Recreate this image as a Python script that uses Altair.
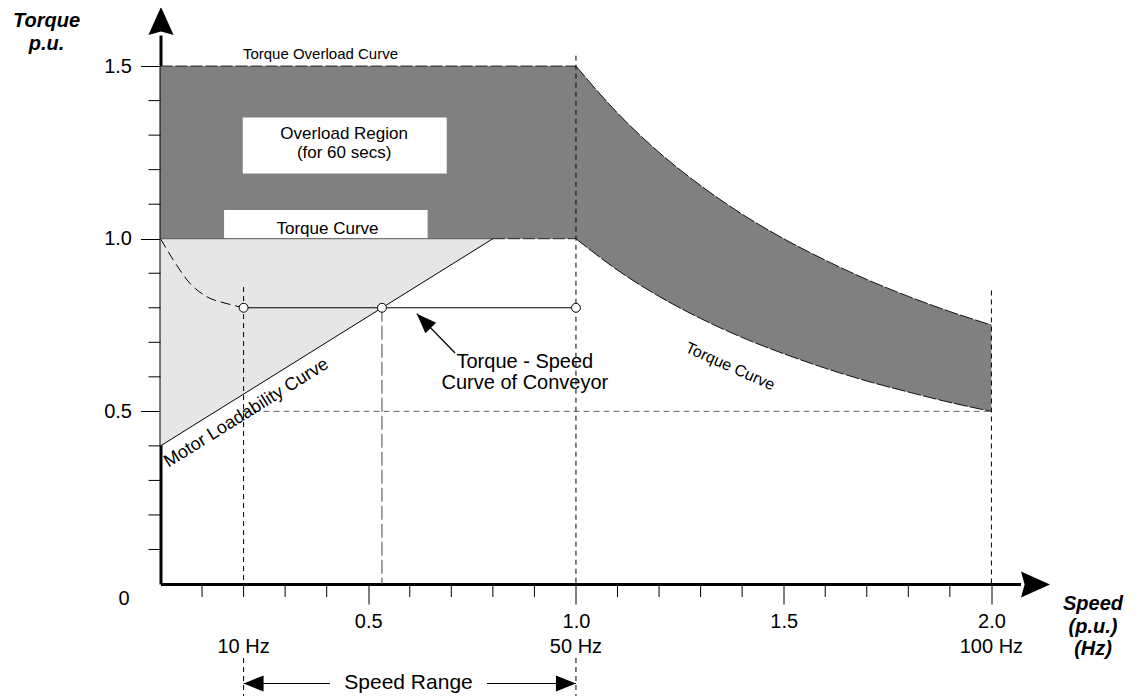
import altair as alt
import pandas as pd

# ---------------- layout ----------------
W, H = 860, 549
X_DOM = [0, 2.07]
Y_DOM = [0, 1.59]
FONT = "Liberation Sans"

# ---------------- data ----------------
# constant-power (field weakening) part
hyp_x = [1.0, 1.1, 1.2, 1.3, 1.4, 1.5, 1.6, 1.7, 1.8, 1.9, 2.0]
hyp_overload = [1.5, 1.364, 1.25, 1.154, 1.071, 1.0, 0.938, 0.882, 0.833, 0.789, 0.75]
hyp_torque = [1.0, 0.909, 0.833, 0.769, 0.714, 0.667, 0.625, 0.588, 0.556, 0.526, 0.5]
flat_x = [0.0, 1.0]
overload_level = 1.5
torque_level = 1.0

# motor loadability curve
load_x = [0.0, 0.8]
load_y = [0.4, 1.0]
torque_dash_x = [0.8, 1.0]

# conveyor torque-speed curve
conv_curve_x = [0.0, 0.03, 0.07, 0.11, 0.16, 0.2]
conv_curve_y = [1.0, 0.94, 0.872, 0.833, 0.812, 0.8]
conv_flat_x = [0.2, 1.0]
conv_level = 0.8
op_x = [0.2, 0.533, 1.0]

# guide lines
vline_long_x = [0.2, 1.0]
vline_long_top = [0.86, 1.53]
vline_short_x = [2.0]
vline_short_top = [0.85]
op_drop_x = [0.533]
half_line_x = [0.2, 2.0]
half_level = 0.5

# text boxes
box_x1 = [0.198, 0.153]
box_x2 = [0.689, 0.643]
box_y1 = [1.189, 1.0]
box_y2 = [1.351, 1.083]

# pointer arrow
ptr_tail = (0.709, 0.669)
ptr_tip = (0.617, 0.783)

# ticks
x_major = [0.5, 1.0, 1.5, 2.0]
x_minor = [0.1, 0.2, 0.3, 0.4, 0.6, 0.7, 0.8, 0.9, 1.1, 1.2, 1.3, 1.4, 1.6, 1.7, 1.8, 1.9]
y_major = [0.5, 1.0, 1.5]
y_minor = [0.1, 0.2, 0.3, 0.4, 0.6, 0.7, 0.8, 0.9, 1.1, 1.2, 1.3, 1.4]

hz_x = [0.2, 1.0, 2.0]
hz_labels = ["10 Hz", "50 Hz", "100 Hz"]

range_seg_x1 = [0.2, 0.786]
range_seg_x2 = [0.408, 1.0]

# ---------------- helpers ----------------
xs = alt.Scale(domain=X_DOM, nice=False, zero=False)
ys = alt.Scale(domain=Y_DOM, nice=False, zero=False)

xaxis = alt.Axis(values=x_major, format=".1f", tickSize=20, tickColor="black", tickWidth=1,
                 domainColor="black", domainWidth=3, labelFont=FONT, labelFontSize=20,
                 labelColor="black", labelPadding=7, grid=False, title=None,
                 labelOverlap=False, labelFlush=False)
yaxis = alt.Axis(values=y_major, format=".1f", tickSize=20, tickColor="black", tickWidth=1,
                 domainColor="black", domainWidth=3, labelFont=FONT, labelFontSize=20,
                 labelColor="black", labelPadding=9, grid=False, title=None,
                 labelOverlap=False, labelFlush=False)


def X(f):
    return alt.X(f"{f}:Q", scale=xs, axis=xaxis)


def Y(f):
    return alt.Y(f"{f}:Q", scale=ys, axis=yaxis)


DARK = "#808080"
LIGHT = "#e6e6e6"

# ---------------- layers ----------------
flat_df = pd.DataFrame({"x1": [flat_x[0]], "x2": [flat_x[1]],
                        "y1": [torque_level], "y2": [overload_level]})
dark_rect = alt.Chart(flat_df).mark_rect(color=DARK).encode(
    x=X("x1"), x2="x2", y=Y("y1"), y2="y2")

hyp_df = pd.DataFrame({"x": hyp_x, "up": hyp_overload, "lo": hyp_torque})
dark_area = alt.Chart(hyp_df).mark_area(color=DARK, interpolate="monotone").encode(
    x=X("x"), y=Y("up"), y2="lo")

light_df = pd.DataFrame({"x": load_x, "lo": load_y, "up": [torque_level, torque_level]})
light_area = alt.Chart(light_df).mark_area(color=LIGHT).encode(
    x=X("x"), y=Y("up"), y2="lo")

box_df = pd.DataFrame({"x1": box_x1, "x2": box_x2, "y1": box_y1, "y2": box_y2})
boxes = alt.Chart(box_df).mark_rect(color="white").encode(
    x=X("x1"), x2="x2", y=Y("y1"), y2="y2")

# overload / torque curve lines
ov_flat = alt.Chart(pd.DataFrame({"x": flat_x, "y": [overload_level] * 2})).mark_line(
    color="#222", strokeWidth=1, strokeDash=[12, 3]).encode(x=X("x"), y=Y("y"))
ov_curve = alt.Chart(hyp_df).mark_line(
    color="#111", strokeWidth=1, strokeDash=[14, 2], interpolate="monotone").encode(
    x=X("x"), y=Y("up"))
tq_flat = alt.Chart(pd.DataFrame({"x": [flat_x[0], load_x[1]], "y": [torque_level] * 2})).mark_line(
    color="#555", strokeWidth=1).encode(x=X("x"), y=Y("y"))
tq_dash = alt.Chart(pd.DataFrame({"x": torque_dash_x, "y": [torque_level] * 2})).mark_line(
    color="#222", strokeWidth=1, strokeDash=[12, 3]).encode(x=X("x"), y=Y("y"))
tq_curve = alt.Chart(hyp_df).mark_line(
    color="#111", strokeWidth=1, strokeDash=[14, 2], interpolate="monotone").encode(
    x=X("x"), y=Y("lo"))

load_line = alt.Chart(pd.DataFrame({"x": load_x, "y": load_y})).mark_line(
    color="black", strokeWidth=1).encode(x=X("x"), y=Y("y"))

# guide lines (above the axis, and again below the Hz labels)
vlong = alt.Chart(pd.DataFrame({"x": vline_long_x, "top": vline_long_top,
                                "bot": [0.0, 0.0]})).mark_rule(
    color="black", strokeWidth=1, strokeDash=[5, 4]).encode(
    x=X("x"), y=Y("top"), y2="bot")
vlong_low = alt.Chart(pd.DataFrame({"x": vline_long_x})).mark_rule(
    color="black", strokeWidth=1, strokeDash=[5, 4]).encode(
    x=X("x"), y=alt.value(H + 74), y2=alt.value(H + 112))
vshort = alt.Chart(pd.DataFrame({"x": vline_short_x, "top": vline_short_top,
                                 "bot": [0.0]})).mark_rule(
    color="black", strokeWidth=1, strokeDash=[5, 4]).encode(
    x=X("x"), y=Y("top"), y2="bot")
vdrop = alt.Chart(pd.DataFrame({"x": op_drop_x, "top": [conv_level], "bot": [0.0]})).mark_rule(
    color="#444", strokeWidth=1, strokeDash=[14, 4]).encode(
    x=X("x"), y=Y("top"), y2="bot")
half = alt.Chart(pd.DataFrame({"x1": [half_line_x[0]], "x2": [half_line_x[1]],
                               "y": [half_level]})).mark_rule(
    color="#666", strokeWidth=1, strokeDash=[6, 4]).encode(
    x=X("x1"), x2="x2", y=Y("y"))

# conveyor curve
conv_curve = alt.Chart(pd.DataFrame({"x": conv_curve_x, "y": conv_curve_y})).mark_line(
    color="black", strokeWidth=1, strokeDash=[10, 5], interpolate="monotone").encode(
    x=X("x"), y=Y("y"))
conv_flat = alt.Chart(pd.DataFrame({"x": conv_flat_x, "y": [conv_level] * 2})).mark_line(
    color="black", strokeWidth=1.2).encode(x=X("x"), y=Y("y"))
op_pts = alt.Chart(pd.DataFrame({"x": op_x, "y": [conv_level] * 3})).mark_point(
    shape="circle", filled=True, fill="white", stroke="black", strokeWidth=1, size=80,
    opacity=1).encode(x=X("x"), y=Y("y"))

# pointer arrow
ptr_line = alt.Chart(pd.DataFrame({"x": [ptr_tail[0]], "y": [ptr_tail[1]],
                                   "x2": [ptr_tip[0]], "y2": [ptr_tip[1]]})).mark_rule(
    color="black", strokeWidth=1.3).encode(x=X("x"), y=Y("y"), x2="x2", y2="y2")
ptr_head = alt.Chart(pd.DataFrame({"x": [ptr_tip[0]], "y": [ptr_tip[1]]})).mark_point(
    shape="M0,0 L0.75,2 L-0.75,2 Z", filled=True, color="black", size=400, angle=316,
    opacity=1).encode(x=X("x"), y=Y("y"))

# minor ticks
xminor = alt.Chart(pd.DataFrame({"x": x_minor})).mark_rule(color="black", strokeWidth=1).encode(
    x=X("x"), y=alt.value(H), y2=alt.value(H + 13))
yminor = alt.Chart(pd.DataFrame({"y": y_minor})).mark_rule(color="black", strokeWidth=1).encode(
    y=Y("y"), x=alt.value(0), x2=alt.value(-12))

# axis arrowheads
y_arrow = alt.Chart(pd.DataFrame({"a": [0]})).mark_point(
    shape="M0,0 L0.9,2 L0,1.75 L-0.9,2 Z", filled=True, color="black", size=784,
    opacity=1).encode(x=alt.value(0.5), y=alt.value(-28))
x_arrow = alt.Chart(pd.DataFrame({"a": [0]})).mark_point(
    shape="M0,0 L-2,-0.9 L-1.75,0 L-2,0.9 Z", filled=True, color="black", size=841,
    opacity=1).encode(x=alt.value(W + 29.5), y=alt.value(H + 0.5))

# speed range
RANGE_Y = H + 99.5
range_rules = alt.Chart(pd.DataFrame({"x1": range_seg_x1, "x2": range_seg_x2})).mark_rule(
    color="black", strokeWidth=1).encode(x=X("x1"), x2="x2", y=alt.value(RANGE_Y))
range_l = alt.Chart(pd.DataFrame({"x": [range_seg_x1[0]]})).mark_point(
    shape="M0,0 L2,-0.8 L2,0.8 Z", filled=True, color="black", size=400, opacity=1).encode(
    x=X("x"), y=alt.value(RANGE_Y))
range_r = alt.Chart(pd.DataFrame({"x": [range_seg_x2[1]]})).mark_point(
    shape="M0,0 L-2,-0.8 L-2,0.8 Z", filled=True, color="black", size=400, opacity=1).encode(
    x=X("x"), y=alt.value(RANGE_Y))
range_text = alt.Chart(pd.DataFrame({"x": [(range_seg_x2[0] + range_seg_x1[1]) / 2],
                                     "t": ["Speed Range"]})).mark_text(
    font=FONT, fontSize=21, color="black", baseline="middle").encode(
    x=X("x"), y=alt.value(RANGE_Y - 0.5), text="t:N")


# texts in data coordinates
def text_layer(xv, yv, tv, size, angle=0, **kw):
    df = pd.DataFrame({"x": xv, "y": yv, "t": tv})
    return alt.Chart(df).mark_text(font=FONT, fontSize=size, color="black",
                                   baseline="middle", align="center", angle=angle,
                                   **kw).encode(x=X("x"), y=Y("y"), text="t:N")


t_overload_curve = text_layer([0.385], [1.535], ["Torque Overload Curve"], 15)
t_box1 = text_layer([0.442, 0.442], [1.302, 1.249], ["Overload Region", "(for 60 secs)"], 17)
t_box2 = text_layer([0.402], [1.027], ["Torque Curve"], 17)
t_conv = text_layer([0.877, 0.877], [0.642, 0.581], ["Torque - Speed", "Curve of Conveyor"], 20)
t_load = text_layer([0.207], [0.495], ["Motor Loadability Curve"], 18, angle=328)
t_tq = text_layer([1.371], [0.63], ["Torque Curve"], 16, angle=24)

hz_text = alt.Chart(pd.DataFrame({"x": hz_x, "t": hz_labels})).mark_text(
    font=FONT, fontSize=20, color="black", baseline="middle").encode(
    x=X("x"), y=alt.value(H + 62.5), text="t:N")

zero_text = alt.Chart(pd.DataFrame({"t": ["0"]})).mark_text(
    font=FONT, fontSize=20, color="black", baseline="middle").encode(
    x=alt.value(-36.5), y=alt.value(H + 14.5), text="t:N")

ytitle = alt.Chart(pd.DataFrame({"t": ["Torque\np.u."]})).mark_text(
    font=FONT, fontSize=20, fontWeight="bold", fontStyle="italic", color="black",
    baseline="top", lineBreak="\n", lineHeight=23).encode(
    x=alt.value(-114), y=alt.value(-23.6), text="t:N")
xtitle = alt.Chart(pd.DataFrame({"t": ["Speed\n(p.u.)\n(Hz)"]})).mark_text(
    font=FONT, fontSize=20, fontWeight="bold", fontStyle="italic", color="black",
    baseline="top", lineBreak="\n", lineHeight=22.5).encode(
    x=alt.value(W + 72.5), y=alt.value(H + 10.4), text="t:N")

chart = alt.layer(
    dark_rect, dark_area, light_area, boxes,
    tq_flat, ov_flat, ov_curve, tq_dash, tq_curve, load_line,
    half, vlong, vlong_low, vshort, vdrop,
    conv_curve, conv_flat, op_pts, ptr_line, ptr_head,
    xminor, yminor, y_arrow, x_arrow,
    range_rules, range_l, range_r, range_text,
    t_overload_curve, t_box1, t_box2, t_conv, t_load, t_tq,
    hz_text, zero_text, ytitle, xtitle,
).properties(
    width=W, height=H,
    autosize=alt.AutoSizeParams(type="none"),
    padding={"left": 152.5, "top": 27, "right": 113, "bottom": 114},
    background="white",
).configure_view(stroke=None)

chart.save("out.html", embed_options={"renderer": "svg", "actions": False})
